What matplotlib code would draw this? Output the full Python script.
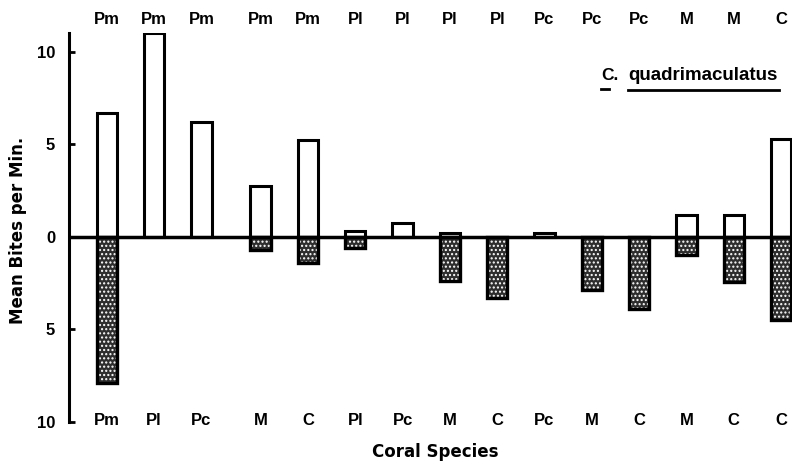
import numpy as np
import matplotlib
matplotlib.use("Agg")
import matplotlib.pyplot as plt
from matplotlib.transforms import blended_transform_factory

# ---- data ----
top_labels = ["Pm", "Pm", "Pm", "Pm", "Pm", "Pl", "Pl", "Pl", "Pl", "Pc", "Pc", "Pc", "M", "M", "C"]
bottom_labels = ["Pm", "Pl", "Pc", "M", "C", "Pl", "Pc", "M", "C", "Pc", "M", "C", "M", "C", "C"]
up_values = [6.7, 11.0, 6.2, 2.75, 5.2, 0.3, 0.75, 0.22, 0.0, 0.2, 0.0, 0.0, 1.15, 1.15, 5.3]
down_values = [7.9, 0.0, 0.0, 0.7, 1.4, 0.6, 0.0, 2.4, 3.3, 0.0, 2.85, 3.9, 1.0, 2.45, 4.5]
ytick_values = [10, 5, 0, -5, -10]
legend_genus = "C."
legend_species = "quadrimaculatus"

plt.rcParams['font.family'] = ['Liberation Sans', 'DejaVu Sans']
plt.rcParams['font.weight'] = 'bold'

fig = plt.figure(figsize=(7.92, 4.67), dpi=100)
ax = fig.add_axes([69/792, (467-422)/467, (792-69)/792, 389/467])

n = len(top_labels)
x = np.arange(n) + np.where(np.arange(n) >= 3, 0.25, 0.0)
width = 0.43

up = np.array(up_values)
down = np.array(down_values)

# upward (open) bars
mask_up = up > 0
ax.bar(x[mask_up], up[mask_up], width=width, facecolor='white', edgecolor='black',
       linewidth=2.2, zorder=3)
# downward (stippled) bars
mask_dn = down > 0
ax.bar(x[mask_dn], -down[mask_dn], width=width, facecolor='#2e2e2e', edgecolor='white',
       linewidth=0, hatch='....', zorder=3)
ax.bar(x[mask_dn], -down[mask_dn], width=width, facecolor='none', edgecolor='black',
       linewidth=2.4, zorder=4)

ax.axhline(0, color='black', linewidth=2.5, zorder=5)

ax.set_xlim(-0.80, 14.48)
ax.set_ylim(-10, 11.0)

for s in ['top', 'right', 'bottom']:
    ax.spines[s].set_visible(False)
ax.spines['left'].set_linewidth(2.2)

ax.set_yticks(ytick_values)
ax.set_yticklabels([str(abs(v)) for v in ytick_values], fontsize=12, fontweight='bold')
ax.tick_params(axis='y', direction='in', length=4, width=2, pad=10)
ax.set_xticks([])

trans = blended_transform_factory(ax.transData, ax.transAxes)
for xi, lab in zip(x, top_labels):
    ax.text(xi, 1.035, lab, transform=trans, ha='center', va='center',
            fontsize=12, fontweight='bold')
for xi, lab in zip(x, bottom_labels):
    ax.text(xi, 0.005, lab, transform=trans, ha='center', va='center',
            fontsize=12, fontweight='bold')

fig.text(435/792, 1 - 452/467, "Coral Species", ha='center', va='center',
         fontsize=12, fontweight='bold', family='DejaVu Sans')
fig.text(18/792, 1 - 230/467, "Mean Bites per Min.", ha='center', va='center',
         rotation=90, fontsize=12, fontweight='bold', family='DejaVu Sans')

# legend-like label with underline
fig.text(601/792, 1 - 76/467, legend_genus, ha='left', va='center', fontsize=12.5, fontweight='bold')
fig.text(628/792, 1 - 76/467, legend_species, ha='left', va='center', fontsize=13.5, fontweight='bold')
fig.add_artist(plt.Line2D([628/792, 779/792], [1 - 90/467, 1 - 90/467], color='black', linewidth=2))
fig.add_artist(plt.Line2D([601/792, 609/792], [1 - 89/467, 1 - 89/467], color='black', linewidth=2))

fig.savefig("out.png", dpi=100)
